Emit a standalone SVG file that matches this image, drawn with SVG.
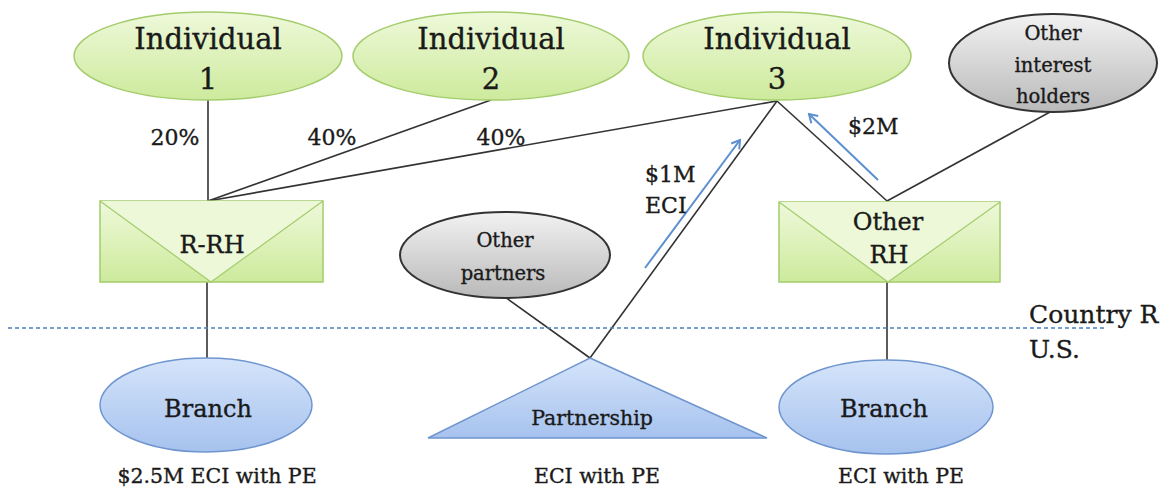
<svg xmlns="http://www.w3.org/2000/svg" width="1162" height="489" viewBox="0 0 1162 489">
<style>
text{font-family:"DejaVu Serif","Liberation Serif",serif;fill:#1a1a1a;stroke:#1a1a1a;stroke-width:0.35;text-anchor:middle}
.big{font-size:29px}
.mid{font-size:24px}
.lab{font-size:22px}
.sm{font-size:19.5px}
.bot{font-size:20.5px}
.green{fill:url(#gG);stroke:#a3cc6c;stroke-width:1.5}
.gray{fill:url(#gY);stroke:#333;stroke-width:2}
.blue{fill:url(#gB);stroke:#6f95cf;stroke-width:1.5}
.flap{fill:#ecf8d8;stroke:#a3cc6c;stroke-width:1.2}
.conn{stroke:#333;stroke-width:1.6;fill:none}
.flow{stroke:#5b8fd0;stroke-width:2;fill:none;marker-end:url(#arr)}
</style>
<defs>
<linearGradient id="gG" x1="0" y1="0" x2="0" y2="1"><stop offset="0" stop-color="#eef9da"/><stop offset="1" stop-color="#cdea9c"/></linearGradient>
<linearGradient id="gY" x1="0" y1="0" x2="0" y2="1"><stop offset="0" stop-color="#f2f2f2"/><stop offset="1" stop-color="#b9b9b9"/></linearGradient>
<linearGradient id="gB" x1="0" y1="0" x2="0" y2="1"><stop offset="0" stop-color="#d5e4fa"/><stop offset="1" stop-color="#a6c2ee"/></linearGradient>
<marker id="arr" markerWidth="12" markerHeight="12" refX="10" refY="6" orient="auto" markerUnits="userSpaceOnUse"><path d="M2,1 L10,6 L2,11" fill="none" stroke="#5b8fd0" stroke-width="2"/></marker>
</defs>

<g id="connectors">
<line class="conn" x1="208" y1="100" x2="208" y2="201"/>
<line class="conn" x1="208" y1="201" x2="491" y2="100"/>
<line class="conn" x1="208" y1="201" x2="777" y2="101"/>
<line class="conn" x1="590" y1="358" x2="777" y2="101"/>
<line class="conn" x1="505" y1="297" x2="590" y2="358"/>
<line class="conn" x1="887" y1="201" x2="777" y2="101"/>
<line class="conn" x1="887" y1="201" x2="1050" y2="112"/>
<line class="conn" x1="207" y1="282" x2="207" y2="358"/>
<line class="conn" x1="887" y1="282" x2="887" y2="360"/>
<line class="flow" x1="645" y1="268" x2="740" y2="140"/>
<line class="flow" x1="878" y1="180" x2="809" y2="114"/>
<line x1="8" y1="328" x2="1107" y2="328" stroke="#4a7fc0" stroke-width="1.5" stroke-dasharray="4 3"/>
</g>

<g id="ind1"><ellipse class="green" cx="208" cy="56" rx="134" ry="44"/><text class="big" x="208" y="49">Individual</text><text class="big" x="208" y="89">1</text></g>
<g id="ind2"><ellipse class="green" cx="491" cy="56" rx="138" ry="44"/><text class="big" x="491" y="49">Individual</text><text class="big" x="491" y="89">2</text></g>
<g id="ind3"><ellipse class="green" cx="777" cy="56" rx="134" ry="44"/><text class="big" x="777" y="49">Individual</text><text class="big" x="777" y="89">3</text></g>
<g id="otherholders"><ellipse class="gray" cx="1053" cy="63" rx="104" ry="49"/><text class="sm" x="1053" y="40">Other</text><text class="sm" x="1053" y="72">interest</text><text class="sm" x="1053" y="103">holders</text></g>

<g id="rrh"><rect class="green" x="100" y="201" width="223" height="81"/><path class="flap" d="M100,201 L211,282 L323,201"/><text class="mid" x="212" y="253">R-RH</text></g>
<g id="otherrh"><rect class="green" x="779" y="202" width="221" height="80"/><path class="flap" d="M779,202 L888,282 L1000,202"/><text class="mid" x="888" y="230">Other</text><text class="mid" x="889" y="263">RH</text></g>

<g id="otherpartners"><ellipse class="gray" cx="505" cy="255" rx="105" ry="43"/><text class="sm" x="505" y="247">Other</text><text class="sm" x="503" y="280">partners</text></g>

<g id="branch1"><ellipse class="blue" cx="206" cy="405" rx="106" ry="47"/><text class="mid" x="208" y="417">Branch</text></g>
<g id="partnership"><polygon class="blue" points="590,358 767,438 428,438"/><text class="bot" x="592" y="425">Partnership</text></g>
<g id="branch2"><ellipse class="blue" cx="886" cy="407" rx="107" ry="47"/><text class="mid" x="884" y="417">Branch</text></g>

<g id="labels">
<text class="lab" x="175" y="145">20%</text>
<text class="lab" x="332" y="145">40%</text>
<text class="lab" x="501" y="145">40%</text>
<text class="lab" x="645" y="182" style="text-anchor:start">$1M</text>
<text class="lab" x="645" y="213" style="text-anchor:start">ECI</text>
<text class="lab" x="848" y="134" style="text-anchor:start">$2M</text>
<text style="font-size:25px;text-anchor:start" x="1029" y="323">Country R</text>
<text style="font-size:25px;text-anchor:start" x="1029" y="358">U.S.</text>
<text class="bot" x="217" y="483">$2.5M ECI with PE</text>
<text class="bot" x="597" y="483">ECI with PE</text>
<text class="bot" x="901" y="483">ECI with PE</text>
</g>
</svg>
